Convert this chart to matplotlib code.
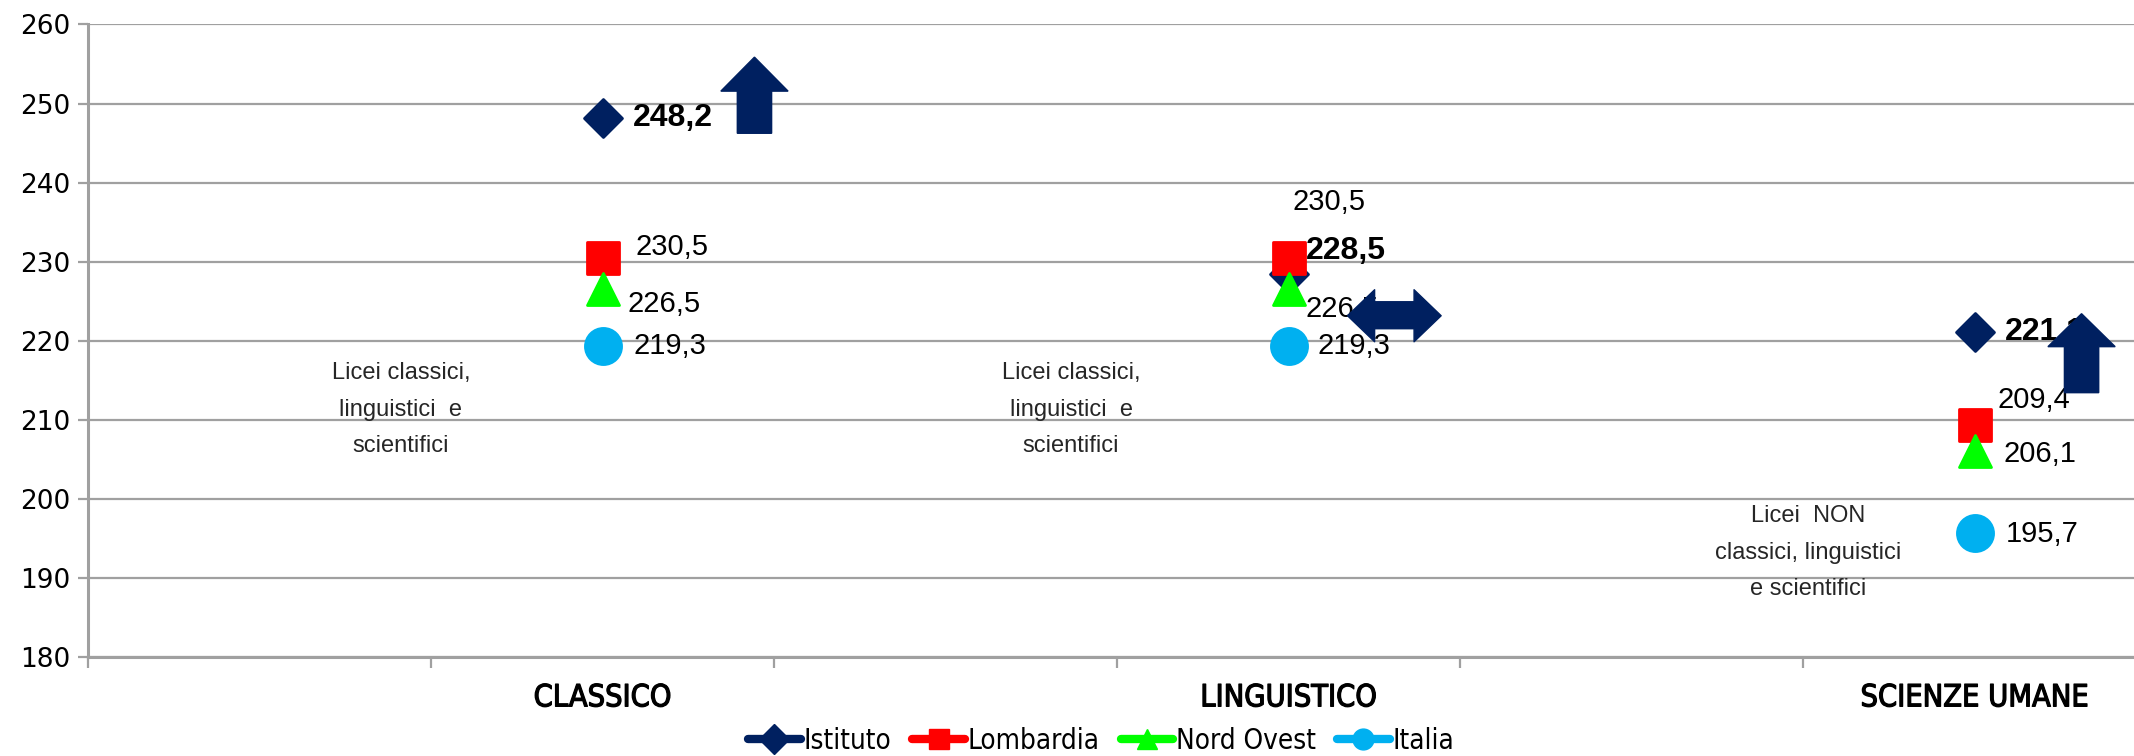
import matplotlib
matplotlib.use("Agg")
import matplotlib.pyplot as plt
import matplotlib.patheffects as pe
from matplotlib import font_manager
from matplotlib.font_manager import FontProperties
from matplotlib.lines import Line2D
from matplotlib.markers import MarkerStyle
from matplotlib.patches import Polygon

# Dati
categorie = ["", "CLASSICO", "", "LINGUISTICO", "", "SCIENZE UMANE"]
x_serie = [1, 3, 5]
istituto = [248.2, 228.5, 221.1]
lombardia = [230.5, 230.5, 209.4]
nord_ovest = [226.5, 226.5, 206.1]
italia = [219.3, 219.3, 195.7]
nomi = ["Istituto", "Lombardia", "Nord Ovest", "Italia"]
note = ["Licei classici,\nlinguistici  e\nscientifici",
        "Licei classici,\nlinguistici  e\nscientifici",
        "Licei  NON\nclassici, linguistici\ne scientifici"]

# font stretto se c'e'
f_cond = font_manager.findfont(FontProperties(family="DejaVu Sans", stretch="condensed"))
if "Condensed" in f_cond:
    cond = dict(family="DejaVu Sans", stretch="condensed")
    cat_size, leg_size = 22, 20
else:
    cond = dict(family="Liberation Sans")
    cat_size, leg_size = 19, 17

colori = ["#002060", "#FF0000", "#00FF00", "#00B0F0"]
marker = ["D", "s", "^", "o"]
msize = [19, 23, 23, 26]

# spostamenti etichette (pixel) per serie e categoria
off = [[(30, 0), (17, 23), (30, 0)],
       [(33, 11), (4, 56), (23, 25)],
       [(25, -15), (17, -20), (29, -3)],
       [(31, 0), (29, 0), (31, -1)]]

fig = plt.figure(figsize=(21.34, 7.56), dpi=100)
ax = fig.add_axes([0.04124, 0.131, 0.9644, 0.8366])

serie = [istituto, lombardia, nord_ovest, italia]
for i, vals in enumerate(serie):
    ms = MarkerStyle(marker[i], joinstyle="round")
    ax.plot(x_serie, vals, linestyle="none", marker=ms, markersize=msize[i],
            color=colori[i], markeredgecolor=colori[i], markeredgewidth=2, zorder=3 + i)

for i, vals in enumerate(serie):
    for j, v in enumerate(vals):
        dx, dy = off[i][j]
        if i == 0:
            kw = dict(fontsize=23, fontweight="bold", family="Liberation Sans")
        else:
            kw = dict(fontsize=21, family="Liberation Sans")
        ax.annotate(f"{v:.1f}".replace(".", ","), (x_serie[j], v),
                    xytext=(dx * 0.72, dy * 0.72), textcoords="offset points",
                    ha="left", va="center", color="black", zorder=8, **kw)

# note
pos_note = [(0.412, 211.3), (2.366, 211.3), (4.515, 193.2)]
for (xn, yn), t in zip(pos_note, note):
    ax.text(xn, yn, t, ha="center", va="center", fontsize=17, color="#262626",
            family="Liberation Sans", linespacing=1.85, zorder=2)

# frecce
navy = "#002060"
def freccia_su(cx, top, base, bottom, hw=0.098, sw=0.05):
    pts = [(cx, top), (cx + hw, base), (cx + sw, base), (cx + sw, bottom),
           (cx - sw, bottom), (cx - sw, base), (cx - hw, base)]
    ax.add_patch(Polygon(pts, closed=True, color=navy, zorder=10))

freccia_su(1.443, 255.87, 251.57, 246.24)
freccia_su(5.312, 223.42, 219.25, 213.43)

x0, x1, hl = 3.172, 3.445, 0.079
pts = [(x0, 223.16), (x0 + hl, 226.45), (x0 + hl, 224.93), (x1 - hl, 224.93),
       (x1 - hl, 226.45), (x1, 223.16), (x1 - hl, 219.87), (x1 - hl, 221.52),
       (x0 + hl, 221.52), (x0 + hl, 219.87)]
ax.add_patch(Polygon(pts, closed=True, color=navy, zorder=10, joinstyle="round"))

# assi
ax.set_xlim(-0.5, 5.5)
ax.set_ylim(180, 260)
ax.set_yticks(range(180, 261, 10))
ax.yaxis.grid(True, color="#a0a0a0", linewidth=1.6)
ax.set_axisbelow(True)
ax.set_xticks([k - 0.5 for k in range(7)])
ax.set_xticklabels([])
ax.set_xticks(range(6), minor=True)
ax.set_xticklabels(categorie, minor=True, fontsize=cat_size, **cond)
for t in ax.get_xticklabels(minor=True):
    t.set_path_effects([pe.withStroke(linewidth=0.9, foreground="black")])
ax.tick_params(axis="x", which="minor", length=0, pad=19)
ax.tick_params(axis="x", which="major", length=8, width=1.6, color="#a0a0a0")
ax.tick_params(axis="y", length=7, width=1.6, color="#a0a0a0", labelsize=19, pad=6)
for s in ["top", "right"]:
    ax.spines[s].set_visible(False)
for s in ["left", "bottom"]:
    ax.spines[s].set_color("#a0a0a0")
    ax.spines[s].set_linewidth(2.2)

handles = [Line2D([0], [0], color=colori[i], lw=6, marker=marker[i], markersize=15,
                  solid_capstyle="round") for i in range(4)]
fig.legend(handles, nomi, loc="center", bbox_to_anchor=(0.516, 0.02), ncol=4,
           frameon=False, prop=dict(size=leg_size, **cond), handlelength=1.9,
           handletextpad=0.1, columnspacing=0.75)

fig.savefig("out.png", dpi=100)
